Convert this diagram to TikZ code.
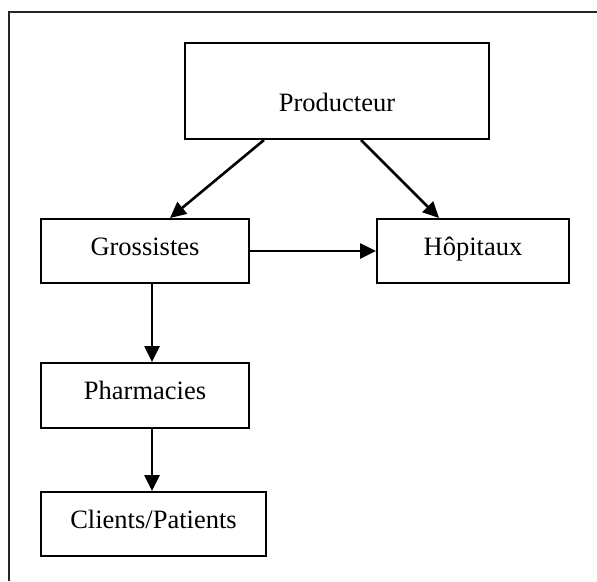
\documentclass[tikz,border=0pt]{standalone}
\usepackage{fontspec}
\setmainfont{Liberation Serif}
\usetikzlibrary{arrows.meta,calc}
\tikzset{
  box/.style={draw=black, line width=2pt, rectangle, inner sep=0pt,
    font=\fontsize{26.5}{30}\selectfont, text height=18pt, text depth=10pt},
  flow/.style={line width=2.6pt, -{Triangle[length=16pt,width=15pt]}},
  frame/.style={draw=black!85, line width=1.4pt}
}
\begin{document}
\begin{tikzpicture}[x=1pt,y=-1pt]
\useasboundingbox (0,0) rectangle (597,581);
\draw[frame] (9,581) -- (9,12) -- (597,12);
\node[box, minimum width=304pt, minimum height=96pt, text height=40pt, text depth=0pt] (prod) at (337,91) {Producteur};
\node[box, minimum width=208pt, minimum height=64pt] (gro) at (145,251) {Grossistes};
\node[box, minimum width=192pt, minimum height=64pt] (hop) at (473,251) {Hôpitaux};
\node[box, minimum width=208pt, minimum height=65pt] (pha) at (145,395.5) {Pharmacies};
\node[box, minimum width=225pt, minimum height=64pt] (cli) at (153.5,524) {Clients/Patients};
\draw[flow] ($(prod.south west)+(80,0)$) -- ($(gro.north west)+(130,0)$);
\draw[flow] ($(prod.south west)+(177,0)$) -- ($(hop.north west)+(63,0)$);
\draw[flow] (gro.east) -- (hop.west);
\draw[flow] ($(gro.south west)+(112,0)$) -- ($(pha.north west)+(112,0)$);
\draw[flow] ($(pha.south west)+(112,0)$) -- ($(cli.north west)+(112,0)$);
\end{tikzpicture}
\end{document}
